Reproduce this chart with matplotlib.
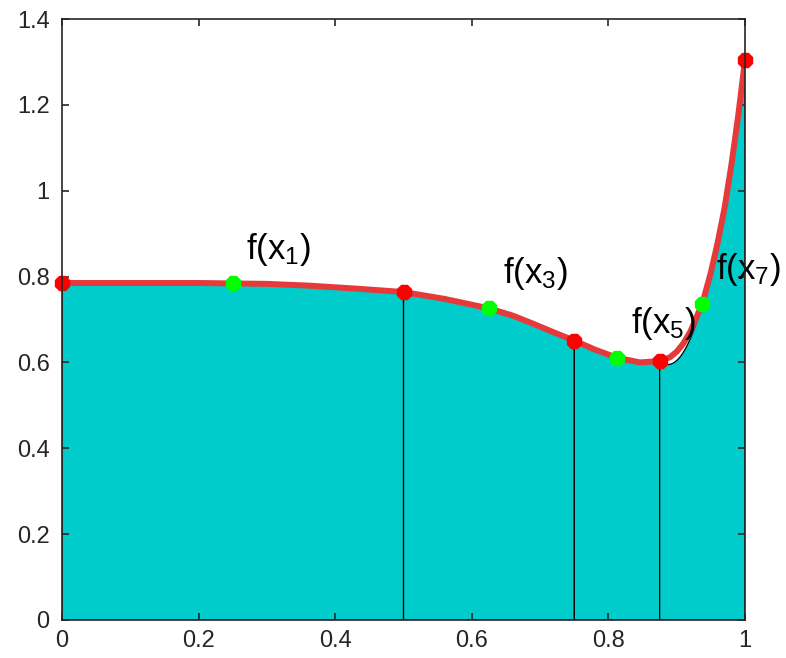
import numpy as np
import matplotlib
matplotlib.use('Agg')
import matplotlib.pyplot as plt

# curva f(x)
x_curva = [0.0, 0.1, 0.2, 0.25, 0.3, 0.36, 0.43, 0.5, 0.56, 0.625, 0.66, 0.69, 0.72, 0.75,
           0.78, 0.8125, 0.846, 0.875, 0.89, 0.9, 0.91, 0.92, 0.9375, 0.95,
           0.96, 0.97, 0.98, 0.99, 1.0]
y_curva = [0.785, 0.785, 0.785, 0.784, 0.783, 0.779, 0.772, 0.764, 0.748, 0.726, 0.709,
           0.690, 0.670, 0.651, 0.630, 0.611, 0.600, 0.603, 0.612, 0.625, 0.645, 0.672,
           0.737, 0.810, 0.880, 0.960, 1.060, 1.175, 1.305]

# nodos de Simpson adaptativo: extremos (rojo) y puntos medios (verde)
x_rojos = [0.0, 0.5, 0.75, 0.875, 1.0]
y_rojos = [0.785, 0.764, 0.651, 0.603, 1.305]
x_verdes = [0.25, 0.625, 0.8125, 0.9375]
y_verdes = [0.784, 0.726, 0.611, 0.737]
etiquetas = ['f(x_1)', 'f(x_3)', 'f(x_5)', 'f(x_7)']

plt.rcParams['mathtext.fontset'] = 'custom'
plt.rcParams['mathtext.rm'] = 'Liberation Sans'
plt.rcParams['mathtext.it'] = 'Liberation Sans'

fig = plt.figure(figsize=(7.86, 6.58), dpi=100)
ax = fig.add_axes([0.0789, 0.0578, 0.869, 0.9133])

# parabolas de Simpson en cada subintervalo
for i in range(len(x_verdes)):
    xs = [x_rojos[i], x_verdes[i], x_rojos[i + 1]]
    ys = [y_rojos[i], y_verdes[i], y_rojos[i + 1]]
    coef = np.polyfit(xs, ys, 2)
    xx = np.linspace(xs[0], xs[2], 100)
    yy = np.polyval(coef, xx)
    px = np.concatenate([[xs[0]], xx, [xs[2]]])
    py = np.concatenate([[0], yy, [0]])
    ax.fill(px, py, facecolor='#00CCCC', edgecolor='black', linewidth=0.9, zorder=1)

ax.plot(x_curva, y_curva, color='#E5393A', linewidth=4.3, zorder=3,
        solid_capstyle='round', solid_joinstyle='round')
ax.plot(x_rojos, y_rojos, '8', color='#FF0000', markersize=11, zorder=4, clip_on=False)
ax.plot(x_verdes, y_verdes, '8', color='#00FF00', markersize=11, zorder=4, clip_on=False)

for xv, yv, txt in zip(x_verdes, y_verdes, etiquetas):
    ax.text(xv + 0.02, yv + 0.08, r'$\mathrm{' + txt + '}$', fontsize=25,
            va='center', ha='left', zorder=5)

ax.set_xlim(0, 1)
ax.set_ylim(0, 1.4)
ax.set_xticks([0, 0.2, 0.4, 0.6, 0.8, 1])
ax.set_xticklabels(['0', '0.2', '0.4', '0.6', '0.8', '1'])
ax.set_yticks([0, 0.2, 0.4, 0.6, 0.8, 1, 1.2, 1.4])
ax.set_yticklabels(['0', '0.2', '0.4', '0.6', '0.8', '1', '1.2', '1.4'])
ax.tick_params(direction='in', length=5, width=1.2, top=True, right=True,
               labelsize=17, colors='#262626')
ax.tick_params(axis='x', pad=7)
ax.tick_params(axis='y', pad=9)
for lbl in ax.get_xticklabels() + ax.get_yticklabels():
    lbl.set_fontfamily('Liberation Sans')
for s in ax.spines.values():
    s.set_linewidth(1.2)
    s.set_color('#262626')
    s.set_zorder(6)

fig.savefig('out.png', dpi=100)
